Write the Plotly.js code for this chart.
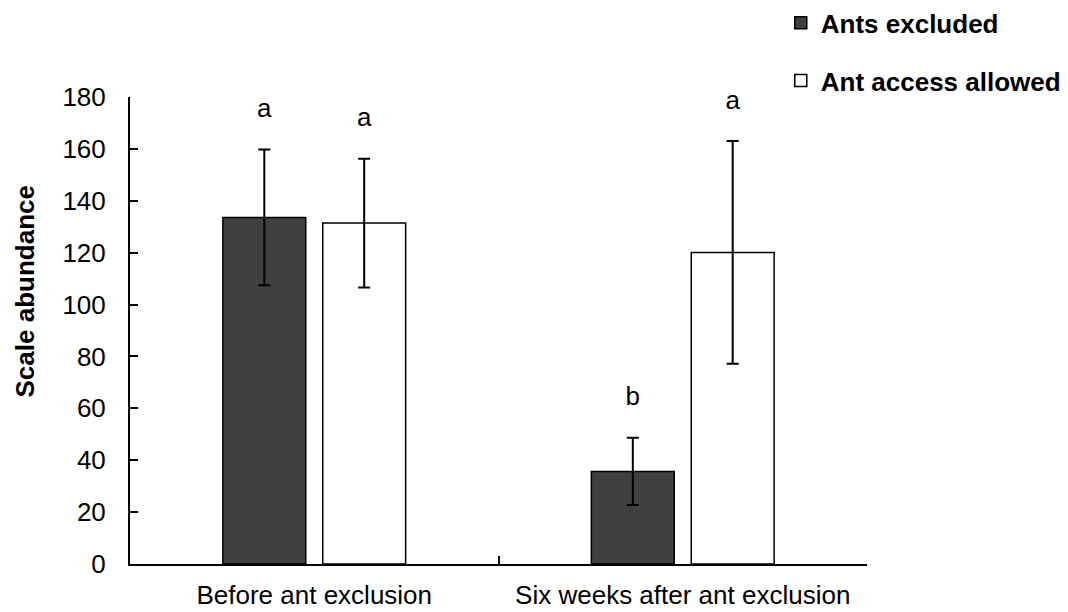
<!DOCTYPE html>
<html>
<head>
<meta charset="utf-8">
<script src="https://cdn.plot.ly/plotly-3.0.1.min.js"></script>
<style>
  html, body { margin: 0; padding: 0; background: #ffffff; }
  #chart { width: 1068px; height: 612px; }
</style>
</head>
<body>
<div id="chart"></div>
<script>
// Scale insect abundance on plants with and without ant access
const categories = ['Before ant exclusion', 'Six weeks after ant exclusion'];
const seriesNames = ['Ants excluded', 'Ant access allowed'];

const antsExcluded = [133.6, 35.7];
const antsExcludedErr = [26.2, 13.0];
const antAccess = [131.4, 120.1];
const antAccessErr = [24.8, 42.9];

// Significance letters shown above each bar
const lettersExcluded = ['a', 'b'];
const lettersAccess = ['a', 'a'];

const yTitle = 'Scale abundance';

const FONT = 'Liberation Sans, Arial, sans-serif';
const BARGAP = 0.458;

function tops(vals, errs) {
  return vals.map((v, i) => v + errs[i]);
}

const barExcluded = {
  type: 'bar',
  name: seriesNames[0],
  x: categories,
  y: antsExcluded,
  offsetgroup: 'ex',
  legend: 'legend',
  marker: { color: '#404040', line: { color: '#000000', width: 1.5 } },
  error_y: { type: 'data', array: antsExcludedErr, visible: true, color: '#000000', thickness: 2, width: 6 },
  hoverinfo: 'skip'
};

const barAccess = {
  type: 'bar',
  name: seriesNames[1],
  x: categories,
  y: antAccess,
  offsetgroup: 'ac',
  legend: 'legend2',
  marker: { color: '#ffffff', line: { color: '#000000', width: 1.5 } },
  error_y: { type: 'data', array: antAccessErr, visible: true, color: '#000000', thickness: 2, width: 6 },
  hoverinfo: 'skip'
};

function letterTrace(vals, errs, letters, group) {
  return {
    type: 'scatter',
    mode: 'markers+text',
    orientation: 'v',
    x: categories,
    y: tops(vals, errs),
    offsetgroup: group,
    text: letters,
    textposition: 'top center',
    textfont: { family: FONT, size: 26, color: '#000000' },
    marker: { size: 40, opacity: 0 },
    showlegend: false,
    hoverinfo: 'skip',
    cliponaxis: false
  };
}

const data = [
  barExcluded,
  barAccess,
  letterTrace(antsExcluded, antsExcludedErr, lettersExcluded, 'ex'),
  letterTrace(antAccess, antAccessErr, lettersAccess, 'ac')
];

const legendCommon = {
  xanchor: 'left',
  yanchor: 'middle',
  bgcolor: 'rgba(0,0,0,0)',
  borderwidth: 0,
  font: { family: FONT, size: 26, color: '#000000', weight: 'bold' },
  itemwidth: 30
};

const layout = {
  width: 1068,
  height: 612,
  margin: { l: 130, r: 201, t: 97, b: 48, autoexpand: false },
  paper_bgcolor: '#ffffff',
  plot_bgcolor: '#ffffff',
  font: { family: FONT, size: 26, color: '#000000' },
  barmode: 'group',
  bargap: BARGAP,
  bargroupgap: 0.17,
  scattermode: 'group',
  scattergap: BARGAP,
  showlegend: true,
  legend: Object.assign({}, legendCommon, { x: 0.883, y: 1.159 }),
  legend2: Object.assign({}, legendCommon, { x: 0.883, y: 1.035 }),
  xaxis: {
    type: 'category',
    showline: true,
    linecolor: '#000000',
    linewidth: 2,
    ticks: 'inside',
    tickson: 'boundaries',
    ticklen: 8,
    tickwidth: 2,
    tickcolor: '#000000',
    showgrid: false,
    zeroline: false,
    ticklabelstandoff: 7,
    tickfont: { family: FONT, size: 26, color: '#000000' }
  },
  yaxis: {
    range: [0, 180],
    dtick: 20,
    showline: true,
    linecolor: '#000000',
    linewidth: 2,
    ticks: 'inside',
    ticklen: 8,
    tickwidth: 2,
    tickcolor: '#000000',
    showgrid: false,
    zeroline: false,
    ticklabelstandoff: 17,
    tickfont: { family: FONT, size: 26, color: '#000000' }
  },
  annotations: [
    {
      // vertical axis title, set a little above the axis midpoint
      text: yTitle,
      textangle: -90,
      xref: 'paper',
      yref: 'paper',
      x: -0.1425,
      y: 0.5835,
      xanchor: 'center',
      yanchor: 'middle',
      showarrow: false,
      font: { family: FONT, size: 26, color: '#000000', weight: 'bold' }
    }
  ]
};

Plotly.newPlot('chart', data, layout, { staticPlot: true, displayModeBar: false });
</script>
</body>
</html>
